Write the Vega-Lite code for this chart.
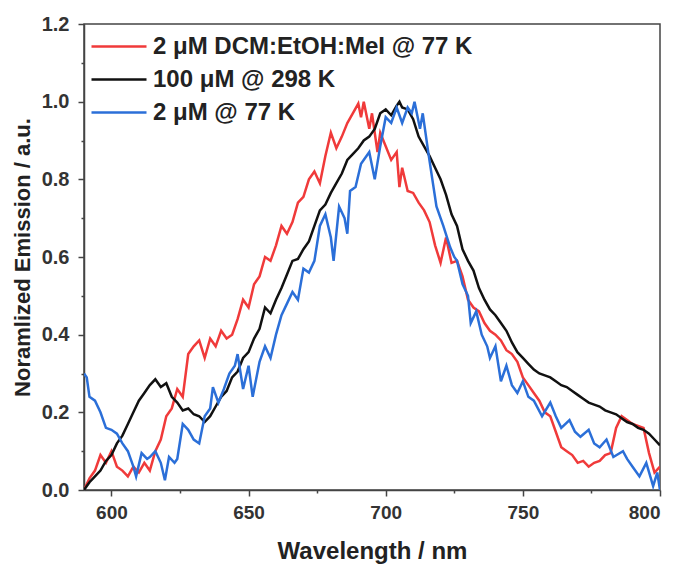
{
  "$schema": "https://vega.github.io/schema/vega-lite/v6.json",
  "width": 576,
  "height": 466,
  "autosize": {"type": "none"},
  "padding": {"left": 84, "top": 24, "right": 17, "bottom": 74},
  "background": "white",
  "config": {
    "view": {"stroke": "#444", "strokeWidth": 1.5},
    "font": "Liberation Sans"
  },
  "datasets": {
    "red": [
      {"wavelength":590,"emission":0.00},{"wavelength":592,"emission":0.03},{"wavelength":594,"emission":0.05},{"wavelength":596,"emission":0.09},{"wavelength":598,"emission":0.07},
      {"wavelength":600,"emission":0.10},{"wavelength":602,"emission":0.06},{"wavelength":604,"emission":0.05},{"wavelength":606,"emission":0.035},{"wavelength":608,"emission":0.06},
      {"wavelength":610,"emission":0.045},{"wavelength":612,"emission":0.07},{"wavelength":614,"emission":0.05},{"wavelength":616,"emission":0.10},{"wavelength":618,"emission":0.13},
      {"wavelength":620,"emission":0.19},{"wavelength":622,"emission":0.21},{"wavelength":624,"emission":0.26},{"wavelength":626,"emission":0.24},{"wavelength":628,"emission":0.35},
      {"wavelength":630,"emission":0.37},{"wavelength":632,"emission":0.385},{"wavelength":634,"emission":0.34},{"wavelength":636,"emission":0.39},{"wavelength":638,"emission":0.37},
      {"wavelength":640,"emission":0.41},{"wavelength":642,"emission":0.39},{"wavelength":644,"emission":0.40},{"wavelength":646,"emission":0.44},{"wavelength":648,"emission":0.49},
      {"wavelength":650,"emission":0.47},{"wavelength":652,"emission":0.53},{"wavelength":654,"emission":0.55},{"wavelength":656,"emission":0.60},{"wavelength":658,"emission":0.59},
      {"wavelength":660,"emission":0.63},{"wavelength":662,"emission":0.68},{"wavelength":664,"emission":0.66},{"wavelength":666,"emission":0.69},{"wavelength":668,"emission":0.74},
      {"wavelength":670,"emission":0.755},{"wavelength":672,"emission":0.80},{"wavelength":674,"emission":0.82},{"wavelength":676,"emission":0.79},{"wavelength":678,"emission":0.86},
      {"wavelength":680,"emission":0.92},{"wavelength":682,"emission":0.88},{"wavelength":684,"emission":0.91},{"wavelength":686,"emission":0.945},{"wavelength":688,"emission":0.97},
      {"wavelength":690,"emission":0.995},{"wavelength":691,"emission":0.96},{"wavelength":692,"emission":1.0},{"wavelength":694,"emission":0.93},{"wavelength":695,"emission":0.97},
      {"wavelength":697,"emission":0.87},{"wavelength":698,"emission":0.92},{"wavelength":700,"emission":0.885},{"wavelength":702,"emission":0.85},{"wavelength":704,"emission":0.87},
      {"wavelength":705,"emission":0.78},{"wavelength":706,"emission":0.83},{"wavelength":708,"emission":0.77},{"wavelength":710,"emission":0.765},{"wavelength":712,"emission":0.74},
      {"wavelength":714,"emission":0.72},{"wavelength":716,"emission":0.69},{"wavelength":718,"emission":0.63},{"wavelength":720,"emission":0.585},{"wavelength":722,"emission":0.65},
      {"wavelength":724,"emission":0.585},{"wavelength":726,"emission":0.59},{"wavelength":728,"emission":0.55},{"wavelength":730,"emission":0.49},{"wavelength":732,"emission":0.47},
      {"wavelength":734,"emission":0.46},{"wavelength":736,"emission":0.43},{"wavelength":738,"emission":0.41},{"wavelength":740,"emission":0.40},{"wavelength":742,"emission":0.385},
      {"wavelength":744,"emission":0.36},{"wavelength":746,"emission":0.35},{"wavelength":748,"emission":0.33},{"wavelength":750,"emission":0.29},{"wavelength":752,"emission":0.27},
      {"wavelength":754,"emission":0.25},{"wavelength":756,"emission":0.23},{"wavelength":758,"emission":0.20},{"wavelength":760,"emission":0.19},{"wavelength":762,"emission":0.15},
      {"wavelength":764,"emission":0.11},{"wavelength":766,"emission":0.10},{"wavelength":768,"emission":0.09},{"wavelength":770,"emission":0.07},{"wavelength":772,"emission":0.075},
      {"wavelength":774,"emission":0.06},{"wavelength":776,"emission":0.07},{"wavelength":778,"emission":0.075},{"wavelength":780,"emission":0.09},{"wavelength":782,"emission":0.095},
      {"wavelength":784,"emission":0.16},{"wavelength":786,"emission":0.19},{"wavelength":788,"emission":0.18},{"wavelength":790,"emission":0.17},{"wavelength":792,"emission":0.165},
      {"wavelength":794,"emission":0.16},{"wavelength":796,"emission":0.095},{"wavelength":798,"emission":0.045},{"wavelength":800,"emission":0.06}
    ],
    "black": [
      {"wavelength":590,"emission":0.00},{"wavelength":592,"emission":0.02},{"wavelength":594,"emission":0.035},{"wavelength":596,"emission":0.05},{"wavelength":598,"emission":0.075},
      {"wavelength":600,"emission":0.09},{"wavelength":602,"emission":0.12},{"wavelength":604,"emission":0.14},{"wavelength":606,"emission":0.17},{"wavelength":608,"emission":0.20},
      {"wavelength":610,"emission":0.23},{"wavelength":612,"emission":0.25},{"wavelength":614,"emission":0.27},{"wavelength":616,"emission":0.285},{"wavelength":618,"emission":0.265},
      {"wavelength":620,"emission":0.275},{"wavelength":622,"emission":0.24},{"wavelength":624,"emission":0.225},{"wavelength":626,"emission":0.205},{"wavelength":628,"emission":0.21},
      {"wavelength":630,"emission":0.195},{"wavelength":632,"emission":0.19},{"wavelength":634,"emission":0.175},{"wavelength":636,"emission":0.19},{"wavelength":638,"emission":0.215},
      {"wavelength":640,"emission":0.24},{"wavelength":642,"emission":0.255},{"wavelength":644,"emission":0.29},{"wavelength":646,"emission":0.305},{"wavelength":648,"emission":0.34},
      {"wavelength":650,"emission":0.355},{"wavelength":652,"emission":0.39},{"wavelength":654,"emission":0.415},{"wavelength":656,"emission":0.47},{"wavelength":658,"emission":0.455},
      {"wavelength":660,"emission":0.49},{"wavelength":662,"emission":0.52},{"wavelength":664,"emission":0.555},{"wavelength":666,"emission":0.59},{"wavelength":668,"emission":0.595},
      {"wavelength":670,"emission":0.62},{"wavelength":672,"emission":0.64},{"wavelength":674,"emission":0.68},{"wavelength":676,"emission":0.72},{"wavelength":678,"emission":0.735},
      {"wavelength":680,"emission":0.765},{"wavelength":682,"emission":0.79},{"wavelength":684,"emission":0.815},{"wavelength":686,"emission":0.85},{"wavelength":688,"emission":0.865},
      {"wavelength":690,"emission":0.88},{"wavelength":692,"emission":0.90},{"wavelength":694,"emission":0.91},{"wavelength":696,"emission":0.93},{"wavelength":698,"emission":0.97},
      {"wavelength":700,"emission":0.98},{"wavelength":702,"emission":0.965},{"wavelength":704,"emission":0.99},{"wavelength":705,"emission":1.0},{"wavelength":706,"emission":0.985},
      {"wavelength":708,"emission":0.98},{"wavelength":710,"emission":0.955},{"wavelength":712,"emission":0.91},{"wavelength":714,"emission":0.885},{"wavelength":716,"emission":0.86},
      {"wavelength":718,"emission":0.83},{"wavelength":720,"emission":0.80},{"wavelength":722,"emission":0.76},{"wavelength":724,"emission":0.71},{"wavelength":726,"emission":0.68},
      {"wavelength":728,"emission":0.62},{"wavelength":730,"emission":0.59},{"wavelength":732,"emission":0.565},{"wavelength":734,"emission":0.52},{"wavelength":736,"emission":0.49},
      {"wavelength":738,"emission":0.465},{"wavelength":740,"emission":0.45},{"wavelength":742,"emission":0.43},{"wavelength":744,"emission":0.41},{"wavelength":746,"emission":0.38},
      {"wavelength":748,"emission":0.355},{"wavelength":750,"emission":0.34},{"wavelength":752,"emission":0.325},{"wavelength":754,"emission":0.31},{"wavelength":756,"emission":0.30},
      {"wavelength":758,"emission":0.295},{"wavelength":760,"emission":0.29},{"wavelength":762,"emission":0.28},{"wavelength":764,"emission":0.27},{"wavelength":766,"emission":0.265},
      {"wavelength":768,"emission":0.255},{"wavelength":770,"emission":0.245},{"wavelength":772,"emission":0.235},{"wavelength":774,"emission":0.225},{"wavelength":776,"emission":0.22},
      {"wavelength":778,"emission":0.215},{"wavelength":780,"emission":0.205},{"wavelength":782,"emission":0.20},{"wavelength":784,"emission":0.195},{"wavelength":786,"emission":0.185},
      {"wavelength":788,"emission":0.175},{"wavelength":790,"emission":0.17},{"wavelength":792,"emission":0.16},{"wavelength":794,"emission":0.155},{"wavelength":796,"emission":0.145},
      {"wavelength":798,"emission":0.13},{"wavelength":800,"emission":0.115}
    ],
    "blue": [
      {"wavelength":590,"emission":0.30},{"wavelength":591,"emission":0.29},{"wavelength":592,"emission":0.24},{"wavelength":594,"emission":0.23},{"wavelength":596,"emission":0.20},
      {"wavelength":598,"emission":0.16},{"wavelength":600,"emission":0.155},{"wavelength":602,"emission":0.145},{"wavelength":604,"emission":0.12},{"wavelength":606,"emission":0.10},
      {"wavelength":608,"emission":0.06},{"wavelength":609,"emission":0.035},{"wavelength":611,"emission":0.095},{"wavelength":613,"emission":0.08},{"wavelength":614,"emission":0.085},
      {"wavelength":616,"emission":0.10},{"wavelength":618,"emission":0.07},{"wavelength":619.5,"emission":0.025},{"wavelength":621,"emission":0.085},{"wavelength":623,"emission":0.07},
      {"wavelength":624,"emission":0.08},{"wavelength":626,"emission":0.17},{"wavelength":628,"emission":0.155},{"wavelength":630,"emission":0.13},{"wavelength":632,"emission":0.12},
      {"wavelength":634,"emission":0.19},{"wavelength":636,"emission":0.21},{"wavelength":637,"emission":0.265},{"wavelength":639,"emission":0.225},{"wavelength":641,"emission":0.26},
      {"wavelength":643,"emission":0.30},{"wavelength":645,"emission":0.32},{"wavelength":646,"emission":0.35},{"wavelength":648,"emission":0.26},{"wavelength":650,"emission":0.32},
      {"wavelength":651.5,"emission":0.24},{"wavelength":654,"emission":0.33},{"wavelength":656,"emission":0.37},{"wavelength":658,"emission":0.34},{"wavelength":660,"emission":0.40},
      {"wavelength":662,"emission":0.45},{"wavelength":664,"emission":0.48},{"wavelength":666,"emission":0.51},{"wavelength":668,"emission":0.49},{"wavelength":670,"emission":0.57},
      {"wavelength":672,"emission":0.56},{"wavelength":674,"emission":0.59},{"wavelength":676,"emission":0.68},{"wavelength":678,"emission":0.71},{"wavelength":680,"emission":0.65},
      {"wavelength":681,"emission":0.59},{"wavelength":683,"emission":0.73},{"wavelength":685,"emission":0.70},{"wavelength":686,"emission":0.66},{"wavelength":687,"emission":0.77},
      {"wavelength":689,"emission":0.78},{"wavelength":691,"emission":0.84},{"wavelength":693,"emission":0.86},{"wavelength":694,"emission":0.87},{"wavelength":696,"emission":0.80},
      {"wavelength":698,"emission":0.885},{"wavelength":700,"emission":0.96},{"wavelength":702,"emission":0.945},{"wavelength":704,"emission":0.985},{"wavelength":706,"emission":0.945},
      {"wavelength":708,"emission":0.985},{"wavelength":709.5,"emission":0.97},{"wavelength":710.5,"emission":1.0},{"wavelength":712.5,"emission":0.93},{"wavelength":713.5,"emission":0.97},
      {"wavelength":715.5,"emission":0.87},{"wavelength":717,"emission":0.80},{"wavelength":718.5,"emission":0.73},{"wavelength":721,"emission":0.68},{"wavelength":723.5,"emission":0.625},
      {"wavelength":725,"emission":0.60},{"wavelength":726,"emission":0.59},{"wavelength":728,"emission":0.53},{"wavelength":730,"emission":0.50},{"wavelength":731,"emission":0.43},
      {"wavelength":733,"emission":0.46},{"wavelength":735,"emission":0.40},{"wavelength":737,"emission":0.37},{"wavelength":738,"emission":0.34},{"wavelength":740,"emission":0.37},
      {"wavelength":742,"emission":0.28},{"wavelength":744,"emission":0.32},{"wavelength":746,"emission":0.27},{"wavelength":748,"emission":0.25},{"wavelength":750,"emission":0.28},
      {"wavelength":752,"emission":0.24},{"wavelength":754,"emission":0.23},{"wavelength":757,"emission":0.19},{"wavelength":760,"emission":0.225},{"wavelength":762,"emission":0.19},
      {"wavelength":764,"emission":0.16},{"wavelength":767,"emission":0.18},{"wavelength":769,"emission":0.15},{"wavelength":771,"emission":0.137},{"wavelength":774,"emission":0.155},
      {"wavelength":776,"emission":0.12},{"wavelength":778,"emission":0.11},{"wavelength":780.5,"emission":0.13},{"wavelength":783,"emission":0.085},{"wavelength":786.5,"emission":0.10},
      {"wavelength":788,"emission":0.08},{"wavelength":790,"emission":0.06},{"wavelength":792.5,"emission":0.035},{"wavelength":795,"emission":0.07},{"wavelength":797.5,"emission":0.01},
      {"wavelength":799,"emission":0.045},{"wavelength":800,"emission":0.0}
    ]
  },
  "layer": [
    {
      "data": {"name": "red"},
      "mark": {"type": "line", "strokeWidth": 2.5, "clip": true},
      "encoding": {"color": {"datum": "2 μM DCM:EtOH:MeI @ 77 K", "type": "nominal"}}
    },
    {
      "data": {"name": "black"},
      "mark": {"type": "line", "strokeWidth": 2.5, "clip": true},
      "encoding": {"color": {"datum": "100 μM @ 298 K", "type": "nominal"}}
    },
    {
      "data": {"name": "blue"},
      "mark": {"type": "line", "strokeWidth": 2.5, "clip": true},
      "encoding": {"color": {"datum": "2 μM @ 77 K", "type": "nominal"}}
    }
  ],
  "encoding": {
    "x": {
      "field": "wavelength", "type": "quantitative",
      "scale": {"domain": [590, 800], "nice": false, "zero": false},
      "axis": {
        "title": "Wavelength / nm",
        "values": [600, 625, 650, 675, 700, 725, 750, 775, 800],
        "labelExpr": "datum.value % 50 === 0 ? datum.label : ''",
        "grid": false,
        "domainColor": "#444", "domainWidth": 1.5,
        "tickColor": "#444", "tickWidth": 1.5,
        "tickSize": {"condition": {"test": "datum.value % 50 === 0", "value": 6}, "value": 3},
        "labelFontSize": 19, "labelFontWeight": "bold", "labelColor": "#333", "labelPadding": 7,
        "titleFontSize": 24, "titleFontWeight": "bold", "titleColor": "#222", "titlePadding": 17
      }
    },
    "y": {
      "field": "emission", "type": "quantitative",
      "scale": {"domain": [0, 1.2], "nice": false},
      "axis": {
        "title": "Noramlized Emission / a.u.",
        "values": [0, 0.1, 0.2, 0.3, 0.4, 0.5, 0.6, 0.7, 0.8, 0.9, 1.0, 1.1, 1.2],
        "labelExpr": "round(datum.value * 10) % 2 === 0 ? format(datum.value, '.1f') : ''",
        "grid": false,
        "domainColor": "#444", "domainWidth": 1.5,
        "tickColor": "#444", "tickWidth": 1.5,
        "tickSize": {"condition": {"test": "round(datum.value * 10) % 2 === 0", "value": 6}, "value": 3},
        "labelFontSize": 20, "labelFontWeight": "bold", "labelColor": "#333", "labelPadding": 9,
        "titleFontSize": 22, "titleFontWeight": "bold", "titleColor": "#222", "titlePadding": 7
      }
    },
    "color": {
      "type": "nominal",
      "scale": {
        "domain": ["2 μM DCM:EtOH:MeI @ 77 K", "100 μM @ 298 K", "2 μM @ 77 K"],
        "range": ["#f03a3a", "#111111", "#2b6fd8"]
      },
      "legend": {
        "orient": "none",
        "legendX": 6,
        "legendY": 10,
        "title": null,
        "padding": 0,
        "symbolType": "M-2.5,0H2.5",
        "symbolSize": 484,
        "symbolStrokeWidth": 2.5,
        "symbolOffset": 16.5,
        "labelFontSize": 24,
        "labelFontWeight": "bold",
        "labelColor": "#222",
        "labelLimit": 500,
        "rowPadding": 8,
        "labelOffset": 21.5
      }
    }
  }
}
